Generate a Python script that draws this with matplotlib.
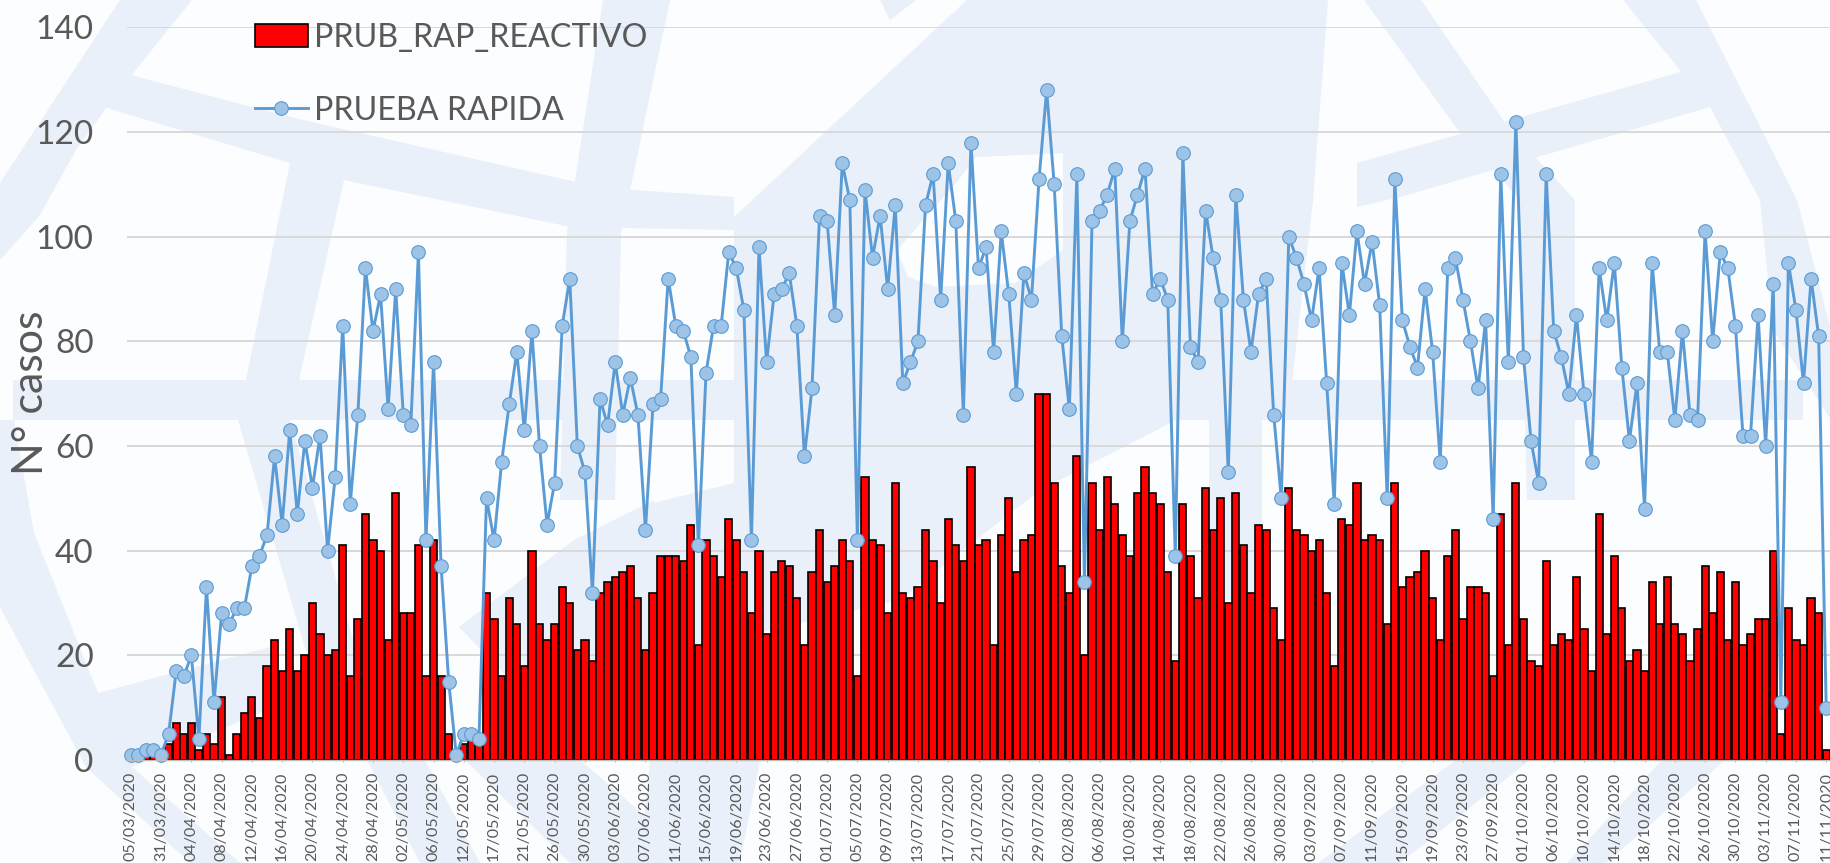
import matplotlib
matplotlib.use("Agg")
import matplotlib.pyplot as plt
from matplotlib.patches import Polygon
import numpy as np

plt.rcParams['font.family'] = ['Lato', 'DejaVu Sans']

# every 4th category has a label
tick_labels = [
    "05/03/2020", "31/03/2020", "04/04/2020", "08/04/2020", "12/04/2020", "16/04/2020",
    "20/04/2020", "24/04/2020", "28/04/2020", "02/05/2020", "06/05/2020", "12/05/2020",
    "17/05/2020", "21/05/2020", "26/05/2020", "30/05/2020", "03/06/2020", "07/06/2020",
    "11/06/2020", "15/06/2020", "19/06/2020", "23/06/2020", "27/06/2020", "01/07/2020",
    "05/07/2020", "09/07/2020", "13/07/2020", "17/07/2020", "21/07/2020", "25/07/2020",
    "29/07/2020", "02/08/2020", "06/08/2020", "10/08/2020", "14/08/2020", "18/08/2020",
    "22/08/2020", "26/08/2020", "30/08/2020", "03/09/2020", "07/09/2020", "11/09/2020",
    "15/09/2020", "19/09/2020", "23/09/2020", "27/09/2020", "01/10/2020", "06/10/2020",
    "10/10/2020", "14/10/2020", "18/10/2020", "22/10/2020", "26/10/2020", "30/10/2020",
    "03/11/2020", "07/11/2020", "11/11/2020",
]

reactivo = [
    0, 0, 1, 1, 0, 3, 7, 5, 7, 2, 5, 3, 12, 1, 5, 9, 12, 8, 18, 23,
    17, 25, 17, 20, 30, 24, 20, 21, 41, 16, 27, 47, 42, 40, 23, 51, 28, 28, 41, 16,
    42, 16, 5, 0, 3, 4, 3, 32, 27, 16, 31, 26, 18, 40, 26, 23, 26, 33, 30, 21,
    23, 19, 32, 34, 35, 36, 37, 31, 21, 32, 39, 39, 39, 38, 45, 22, 42, 39, 35, 46,
    42, 36, 28, 40, 24, 36, 38, 37, 31, 22, 36, 44, 34, 37, 42, 38, 16, 54, 42, 41,
    28, 53, 32, 31, 33, 44, 38, 30, 46, 41, 38, 56, 41, 42, 22, 43, 50, 36, 42, 43,
    70, 70, 53, 37, 32, 58, 20, 53, 44, 54, 49, 43, 39, 51, 56, 51, 49, 36, 19, 49,
    39, 31, 52, 44, 50, 30, 51, 41, 32, 45, 44, 29, 23, 52, 44, 43, 40, 42, 32, 18,
    46, 45, 53, 42, 43, 42, 26, 53, 33, 35, 36, 40, 31, 23, 39, 44, 27, 33, 33, 32,
    16, 47, 22, 53, 27, 19, 18, 38, 22, 24, 23, 35, 25, 17, 47, 24, 39, 29, 19, 21,
    17, 34, 26, 35, 26, 24, 19, 25, 37, 28, 36, 23, 34, 22, 24, 27, 27, 40, 5, 29,
    23, 22, 31, 28, 2,
]

prueba_rapida = [
    1, 1, 2, 2, 1, 5, 17, 16, 20, 4, 33, 11, 28, 26, 29, 29, 37, 39, 43, 58,
    45, 63, 47, 61, 52, 62, 40, 54, 83, 49, 66, 94, 82, 89, 67, 90, 66, 64, 97, 42,
    76, 37, 15, 1, 5, 5, 4, 50, 42, 57, 68, 78, 63, 82, 60, 45, 53, 83, 92, 60,
    55, 32, 69, 64, 76, 66, 73, 66, 44, 68, 69, 92, 83, 82, 77, 41, 74, 83, 83, 97,
    94, 86, 42, 98, 76, 89, 90, 93, 83, 58, 71, 104, 103, 85, 114, 107, 42, 109, 96, 104,
    90, 106, 72, 76, 80, 106, 112, 88, 114, 103, 66, 118, 94, 98, 78, 101, 89, 70, 93, 88,
    111, 128, 110, 81, 67, 112, 34, 103, 105, 108, 113, 80, 103, 108, 113, 89, 92, 88, 39, 116,
    79, 76, 105, 96, 88, 55, 108, 88, 78, 89, 92, 66, 50, 100, 96, 91, 84, 94, 72, 49,
    95, 85, 101, 91, 99, 87, 50, 111, 84, 79, 75, 90, 78, 57, 94, 96, 88, 80, 71, 84,
    46, 112, 76, 122, 77, 61, 53, 112, 82, 77, 70, 85, 70, 57, 94, 84, 95, 75, 61, 72,
    48, 95, 78, 78, 65, 82, 66, 65, 101, 80, 97, 94, 83, 62, 62, 85, 60, 91, 11, 95,
    86, 72, 92, 81, 10,
]

TEXT = '#595959'
PALE = '#e9f0f9'
WHITE = '#fbfdff'

fig = plt.figure(figsize=(18.31, 8.63), dpi=100, facecolor=WHITE)

# washed out logo behind the chart, in image pixels
bg = fig.add_axes([0, 0, 1, 1], zorder=0)
bg.set_xlim(0, 1831)
bg.set_ylim(863, 0)
bg.axis('off')
logo = [
    [(120, 0), (192, 0), (138, 67), (107, 107), (76, 150), (40, 215), (0, 260), (0, 183)],
    [(100, 67), (290, 117), (580, 183), (634, 190), (734, 197), (734, 230), (571, 227), (344, 180), (290, 163), (107, 108)],
    [(290, 163), (344, 180), (290, 420), (238, 420)],
    [(238, 420), (290, 420), (380, 733), (330, 733)],
    [(13, 380), (1803, 380), (1803, 420), (13, 420)],
    [(603, 0), (670, 0), (621, 233), (567, 233)],
    [(567, 233), (621, 233), (615, 500), (560, 500)],
    [(967, 0), (1328, 0), (1313, 200), (1290, 400), (1215, 400), (1040, 490), (900, 600), (640, 660),
     (654, 503), (734, 483), (734, 217)],
    [(880, 0), (916, 0), (890, 20)],
    [(1357, 163), (1688, 70), (1710, 107), (1400, 197), (1357, 207)],
    [(1364, 0), (1421, 0), (1510, 130), (1575, 200), (1575, 500), (1527, 500), (1520, 200), (1458, 130)],
    [(1623, 0), (1696, 0), (1797, 200), (1831, 330), (1831, 420), (1773, 330), (1760, 200), (1710, 107)],
    [(1209, 420), (1262, 420), (1262, 600), (1209, 600)],
    [(0, 420), (14, 420), (34, 533), (98, 693), (270, 647), (290, 700), (132, 767), (240, 863), (190, 863),
     (86, 767), (0, 607)],
    [(459, 627), (574, 540), (654, 500), (654, 660), (520, 690)],
    [(367, 760), (425, 760), (480, 863), (420, 863)],
    [(465, 760), (580, 760), (700, 863), (570, 863)],
    [(650, 760), (760, 760), (740, 863), (640, 863)],
    [(1456, 760), (1530, 760), (1400, 863), (1318, 863)],
    [(1662, 760), (1725, 760), (1606, 863), (1567, 863)],
]
for pts in logo:
    bg.add_patch(Polygon(pts, closed=True, facecolor=PALE, edgecolor='none'))
# bright patch in the middle of the logo
bg.add_patch(Polygon([(976, 157), (1063, 153), (1063, 250), (1015, 283), (936, 287), (908, 277),
                      (897, 250), (956, 183)], closed=True, facecolor=WHITE, edgecolor='none'))

ax = fig.add_axes([127 / 1831, 103 / 863, 1703 / 1831, 732.6 / 863], zorder=1)
ax.patch.set_alpha(0)

x = np.arange(len(prueba_rapida))
bars = ax.bar(x, reactivo, width=0.95, color='#ff0000', edgecolor='black', linewidth=1.2,
              label='PRUB_RAP_REACTIVO', zorder=2)
line, = ax.plot(x, prueba_rapida, color='#5b9bd5', linewidth=2.1, marker='o', markersize=9.8,
                markerfacecolor='#9dc3e6', markeredgecolor='#5b9bd5', markeredgewidth=0.8,
                label='PRUEBA RAPIDA', zorder=3, clip_on=False)

ax.set_xlim(-0.5, len(x) - 0.5)
ax.set_ylim(0, 140)
ax.set_yticks(range(0, 141, 20))
ax.tick_params(axis='y', length=0, labelsize=24, labelcolor=TEXT, pad=24)
ax.set_xticks(x[::4])
ax.set_xticklabels(tick_labels, rotation=90, fontsize=11.5, color=TEXT)
ax.tick_params(axis='x', length=1.5, color='#bfbfbf', pad=7)
ax.grid(axis='y', color='#d9d9d9', linewidth=1.4, zorder=1)
ax.set_axisbelow(True)
for name in ['top', 'right', 'left']:
    ax.spines[name].set_visible(False)
ax.spines['bottom'].set_color('#bfbfbf')
ax.spines['bottom'].set_linewidth(1.0)
ax.spines['bottom'].set_zorder(4)

fig.text(31 / 1831, 1 - 393 / 863, 'N° casos', rotation=90, ha='center', va='center',
         fontsize=31, color=TEXT)

ax.legend([bars, line], ['PRUB_RAP_REACTIVO', 'PRUEBA RAPIDA'], loc='upper left',
          bbox_to_anchor=(255 / 1831, 1 - 23 / 863),
          bbox_transform=fig.transFigure, frameon=False, fontsize=23.2, labelcolor=TEXT,
          handlelength=1.63, handletextpad=0.2, labelspacing=1.32, borderpad=0, borderaxespad=0)

fig.savefig('out.png', dpi=100, facecolor=fig.get_facecolor())
